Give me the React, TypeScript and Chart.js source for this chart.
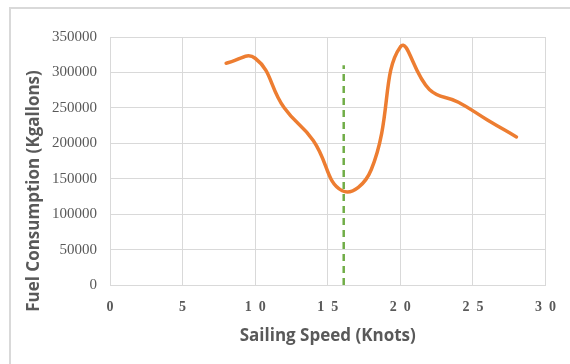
import React, { useEffect, useRef } from 'react';
import { Chart, registerables } from 'chart.js';

Chart.register(...registerables);

const speeds = [8, 10, 12, 14, 16, 18, 20, 22, 24, 26, 28];
const fuel = [313000, 320000, 250000, 204000, 133000, 163000, 336000, 276000, 258000, 233000, 209000];
const optimalSpeed = [16.1, 16.1];
const optimalLine = [0, 310000];
const xTickValues = [0, 5, 10, 15, 20, 25, 30];
const yTickValues = [0, 50000, 100000, 150000, 200000, 250000, 300000, 350000];
const xTitle = 'Sailing Speed (Knots)';
const yTitle = 'Fuel Consumption (Kgallons)';

const TEXT = '#595959';
const GRID = '#d9d9d9';

export default function App() {
  const ref = useRef<HTMLCanvasElement | null>(null);

  useEffect(() => {
    if (!ref.current) return;
    const yTitlePlugin = {
      id: 'yTitlePlugin',
      afterDraw(chart: any) {
        const ctx = chart.ctx;
        ctx.save();
        ctx.translate(34, 191);
        ctx.rotate(-Math.PI / 2);
        ctx.font = 'bold 17px "Open Sans"';
        ctx.fillStyle = TEXT;
        ctx.textAlign = 'center';
        ctx.textBaseline = 'middle';
        ctx.fillText(yTitle, 0, 0);
        ctx.restore();
      },
    };
    const chart = new Chart(ref.current, {
      type: 'scatter',
      data: {
        datasets: [
          {
            data: speeds.map((s, i) => ({ x: s, y: fuel[i] })),
            showLine: true,
            borderColor: '#ED7D31',
            borderWidth: 3.5,
            borderCapStyle: 'round',
            borderJoinStyle: 'round',
            pointRadius: 0,
            tension: 0.45,
            fill: false,
          },
          {
            data: optimalSpeed.map((s, i) => ({ x: s, y: optimalLine[i] })),
            showLine: true,
            borderColor: '#70AD47',
            borderWidth: 2.5,
            borderDash: [7, 5],
            pointRadius: 0,
            fill: false,
          },
        ],
      },
      options: {
        responsive: false,
        animation: false,
        events: [],
        layout: { padding: { left: 0, right: 23, top: 37, bottom: 0 } },
        plugins: { legend: { display: false }, tooltip: { enabled: false } },
        scales: {
          x: {
            type: 'linear',
            min: 0,
            max: 30,
            afterBuildTicks(scale: any) {
              scale.ticks = xTickValues.map((v) => ({ value: v }));
            },
            afterFit(scale: any) {
              scale.height = 79;
            },
            grid: { color: GRID, lineWidth: 1, drawTicks: false },
            border: { color: GRID, width: 1 },
            ticks: {
              padding: 14,
              color: TEXT,
              font: { family: '"Liberation Serif", serif', size: 14, weight: 'bold' },
              maxRotation: 0,
              callback: (v: any) => String(v).split('').join('\u2002'),
            },
            title: {
              display: true,
              text: xTitle,
              color: TEXT,
              font: { family: '"Open Sans"', size: 17, weight: 'bold' },
              padding: { top: 0, bottom: 18 },
            },
          },
          y: {
            type: 'linear',
            min: 0,
            max: 350000,
            afterBuildTicks(scale: any) {
              scale.ticks = yTickValues.map((v) => ({ value: v }));
            },
            afterFit(scale: any) {
              scale.width = 110;
            },
            grid: { color: GRID, lineWidth: 1, drawTicks: false },
            border: { color: GRID, width: 1 },
            ticks: {
              padding: 13,
              color: TEXT,
              font: { family: '"Liberation Serif", serif', size: 15 },
              callback: (v: any) => String(v),
            },
          },
        },
      },
      plugins: [yTitlePlugin],
    } as any);
    return () => chart.destroy();
  }, []);

  return (
    <div style={{ position: 'absolute', left: 0, top: 0, width: 570, height: 364, background: '#fff' }}>
      <div
        style={{
          position: 'absolute',
          left: 9,
          top: 7,
          width: 561,
          height: 357,
          borderLeft: '2px solid #d9d9d9',
          borderTop: '2px solid #d9d9d9',
          boxSizing: 'border-box',
        }}
      />
      <canvas ref={ref} width={570} height={364} style={{ position: 'absolute', left: 0, top: 0, width: 570, height: 364 }} />
    </div>
  );
}
